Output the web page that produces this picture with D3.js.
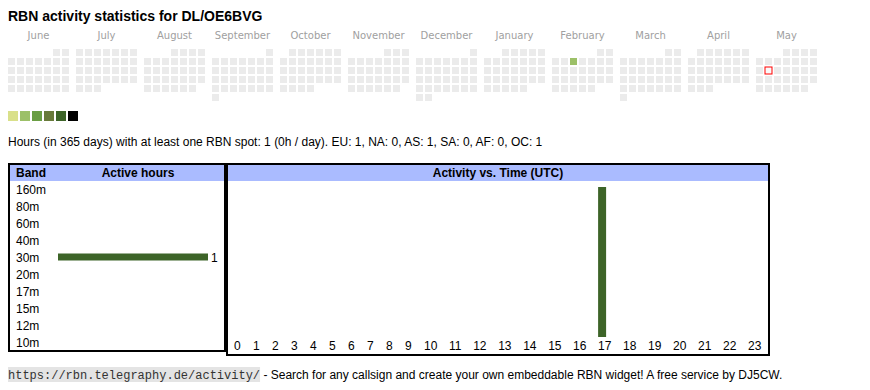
<!DOCTYPE html>
<html lang="en">
<head>
  <meta charset="utf-8">
  <script src="https://d3js.org/d3.v7.js"></script>
  <title>RBN activity</title>
  <style>
    body { margin: 0; background: #fff; }
    text { font-family: "Liberation Sans", Arial, sans-serif; font-size: 12px; }
    .month { font-family: "DejaVu Sans", Verdana, sans-serif; font-size: 10px; fill: #a0a0a0; }
    .box { fill: none; stroke: #000; stroke-width: 2px; }
    .head { fill: #aabbff; }
    .bold { font-weight: bold; }
  </style>
</head>
<body>
<script>
// calendar
const months = ["June", "July", "August", "September", "October", "November",
                "December", "January", "February", "March", "April", "May"];
const monthStarts = ["2024-06-01", "2024-07-01", "2024-08-01", "2024-09-01", "2024-10-01", "2024-11-01",
                     "2024-12-01", "2025-01-01", "2025-02-01", "2025-03-01", "2025-04-01", "2025-05-01"];
const legendColors = ["#d9e08a", "#9cc068", "#6a9e44", "#687a3a", "#3d6428", "#000000"];
const activeDays = ["2025-02-05"];
const activeLevels = [1];
const today = "2025-05-13";

// band table
const bands = ["160m", "80m", "60m", "40m", "30m", "20m", "17m", "15m", "12m", "10m"];
const bandHours = [0, 0, 0, 0, 1, 0, 0, 0, 0, 0];

// hour table
const hourLabels = ["0", "1", "2", "3", "4", "5", "6", "7", "8", "9", "10", "11",
                    "12", "13", "14", "15", "16", "17", "18", "19", "20", "21", "22", "23"];
const hourActivity = [0, 0, 0, 0, 0, 0, 0, 0, 0, 0, 0, 0,
                      0, 0, 0, 0, 0, 1, 0, 0, 0, 0, 0, 0];

const summary = "Hours (in 365 days) with at least one RBN spot: 1 (0h / day). EU: 1, NA: 0, AS: 1, SA: 0, AF: 0, OC: 1";
const linkText = "https://rbn.telegraphy.de/activity/";
const footText = " - Search for any callsign and create your own embeddable RBN widget! A free service by DJ5CW.";

const barColor = "#3d6428";
const parse = d3.timeParse("%Y-%m-%d");
const fmt = d3.timeFormat("%Y-%m-%d");

const svg = d3.select("body").append("svg").attr("width", 870).attr("height", 390);

svg.append("text").attr("x", 8).attr("y", 21)
  .style("font-size", "14px").style("font-weight", "bold")
  .text("RBN activity statistics for DL/OE6BVG");

// ---- calendar ----
let monthX = d3.scaleBand().domain(months).range([8, 817]).paddingInner(7 / 68);
let dayX = d3.scaleBand().domain(d3.range(7)).range([0, 61]).paddingInner(2 / 9);
let weekY = d3.scaleBand().domain(d3.range(6)).range([49, 49 + 6 * 9 - 2]).paddingInner(2 / 9);

svg.selectAll(".month").data(months).join("text")
  .attr("class", "month")
  .attr("x", d => monthX(d) + monthX.bandwidth() / 2)
  .attr("y", 39)
  .attr("text-anchor", "middle")
  .text(d => d);

let levelOf = {};
activeDays.forEach((d, i) => levelOf[d] = activeLevels[i]);

months.forEach(function (m, i) {
  let start = parse(monthStarts[i]);
  let days = d3.timeDay.range(start, d3.timeMonth.offset(start, 1));
  let first = d3.timeMonday.floor(start);
  let g = svg.append("g").attr("transform", "translate(" + monthX(m) + ",0)");
  g.selectAll("rect").data(days).join("rect")
    .attr("x", d => dayX((d.getDay() + 6) % 7))
    .attr("y", d => weekY(d3.timeMonday.count(first, d)))
    .attr("width", dayX.bandwidth())
    .attr("height", weekY.bandwidth())
    .style("fill", function (d) {
      let k = fmt(d);
      if (k == today) return "#fafafa";
      return levelOf[k] != null ? legendColors[levelOf[k]] : "#ebebeb";
    })
    .style("stroke", d => fmt(d) == today ? "red" : "none")
    .style("stroke-width", 1);
});
// nudge today's outline onto the pixel grid
svg.selectAll("rect").filter(function () { return d3.select(this).style("stroke") == "rgb(255, 0, 0)"; })
  .attr("x", function () { return +d3.select(this).attr("x") + 0.5; })
  .attr("y", function () { return +d3.select(this).attr("y") + 0.5; })
  .attr("width", 6).attr("height", 6);

let legX = d3.scaleBand().domain(d3.range(legendColors.length)).range([8, 8 + 12 * 6 - 2]).paddingInner(2 / 12);
svg.selectAll(".leg").data(legendColors).join("rect")
  .attr("class", "leg")
  .attr("x", (d, i) => legX(i)).attr("y", 111)
  .attr("width", legX.bandwidth()).attr("height", 10)
  .style("fill", d => d);

svg.append("text").attr("x", 8).attr("y", 146).text(summary);

// ---- band table ----
svg.append("rect").attr("class", "head").attr("x", 10).attr("y", 165).attr("width", 214).attr("height", 16);
svg.append("rect").attr("class", "box").attr("x", 9).attr("y", 164).attr("width", 216).attr("height", 187);
svg.append("text").attr("class", "bold").attr("x", 16).attr("y", 177).text("Band");
svg.append("text").attr("class", "bold").attr("x", 138).attr("y", 177).attr("text-anchor", "middle").text("Active hours");

let bandY = d3.scaleBand().domain(bands).range([181, 181 + 17 * bands.length]);
let hoursX = d3.scaleLinear().domain([0, d3.max(bandHours)]).range([58, 208]);

svg.selectAll(".band").data(bands).join("text")
  .attr("class", "band")
  .attr("x", 16)
  .attr("y", d => bandY(d) + bandY.bandwidth() / 2 + 4)
  .text(d => d);

let bandData = bands.map((b, i) => ({ band: b, v: bandHours[i] })).filter(d => d.v > 0);
svg.selectAll(".hbar").data(bandData).join("rect")
  .attr("class", "hbar")
  .attr("x", hoursX(0))
  .attr("y", d => bandY(d.band) + bandY.bandwidth() / 2 - 4)
  .attr("width", d => hoursX(d.v) - hoursX(0))
  .attr("height", 7)
  .style("fill", barColor);
svg.selectAll(".hval").data(bandData).join("text")
  .attr("class", "hval")
  .attr("x", d => hoursX(d.v) + 3)
  .attr("y", d => bandY(d.band) + bandY.bandwidth() / 2 + 4)
  .text(d => d.v);

// ---- activity vs time ----
svg.append("rect").attr("class", "head").attr("x", 228).attr("y", 165).attr("width", 541).attr("height", 16);
svg.append("rect").attr("class", "box").attr("x", 227).attr("y", 164).attr("width", 542).attr("height", 191);
svg.append("text").attr("class", "bold").attr("x", 498).attr("y", 177).attr("text-anchor", "middle")
  .text("Activity vs. Time (UTC)");

let hourText = svg.selectAll(".hour").data(hourLabels).join("text")
  .attr("class", "hour")
  .attr("y", 350)
  .text(d => d);

// table-like columns: text width plus padding, stretched to the box
let widths = [];
hourText.each(function () { widths.push(this.getComputedTextLength() + 14.5); });
let k = (768 - 229) / d3.sum(widths);
let starts = [];
let acc = 229;
widths.forEach(w => { starts.push(acc); acc += w * k; });
let hourX = d3.scaleOrdinal().domain(hourLabels).range(starts);
hourText.attr("x", d => hourX(d) + 5);

let actY = d3.scaleLinear().domain([0, d3.max(hourActivity)]).range([337, 187]);
let hourData = hourLabels.map((h, i) => ({ h: h, v: hourActivity[i] })).filter(d => d.v > 0);
svg.selectAll(".vbar").data(hourData).join("rect")
  .attr("class", "vbar")
  .attr("x", d => hourX(d.h) + 5)
  .attr("y", d => actY(d.v))
  .attr("width", 8)
  .attr("height", d => actY(0) - actY(d.v))
  .style("fill", barColor);

// ---- footer ----
let link = svg.append("text").attr("x", 8).attr("y", 379)
  .style("font-family", "'Liberation Mono', 'Courier New', monospace")
  .style("font-size", "12px").style("fill", "#333")
  .text(linkText);
let lw = link.node().getComputedTextLength();
svg.insert("rect", "text:last-child").attr("x", 8).attr("y", 367).attr("width", lw).attr("height", 15).style("fill", "#e4e4e4");
link.raise();
svg.append("text").attr("x", 8 + lw).attr("y", 379)
  .attr("xml:space", "preserve").style("white-space", "pre")
  .text(footText);
</script>
</body>
</html>
